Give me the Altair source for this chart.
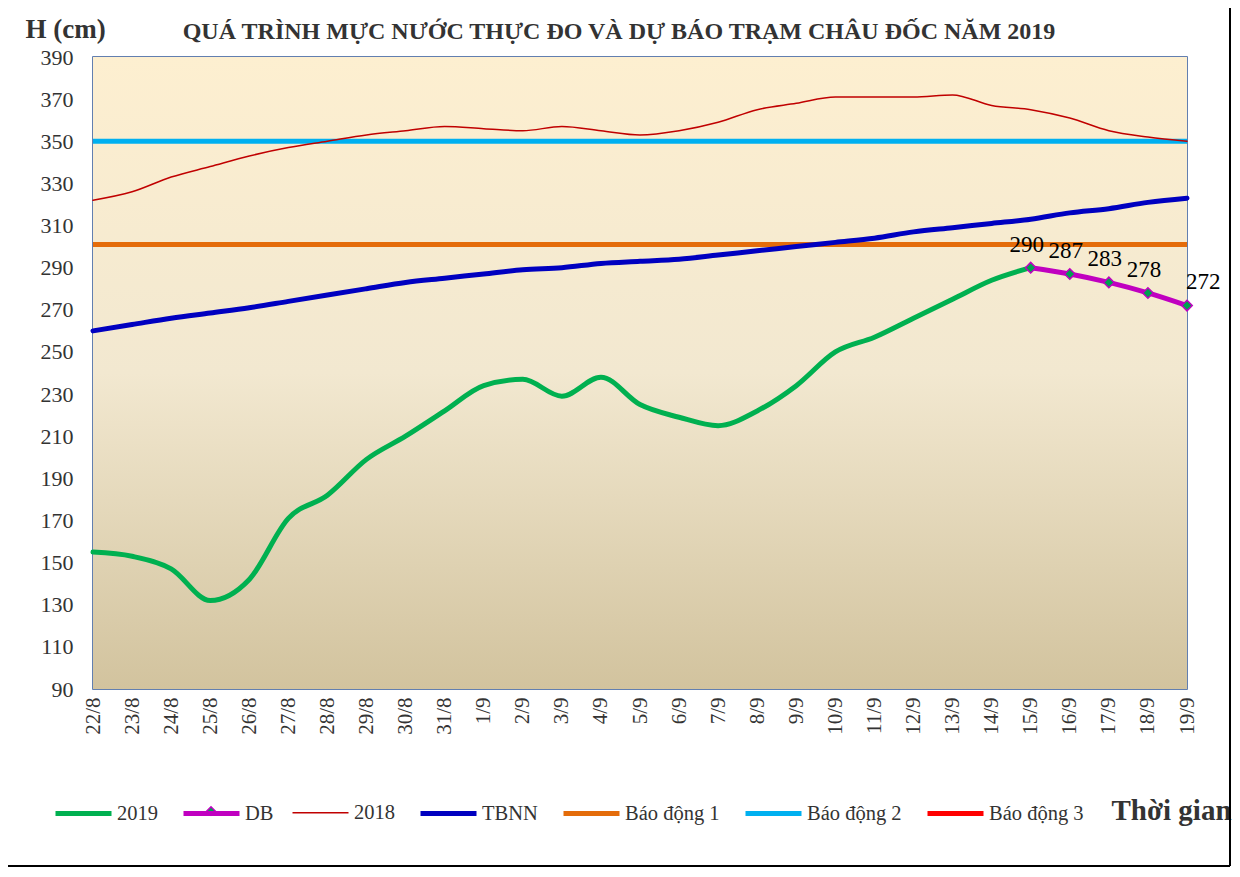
import altair as alt
import pandas as pd

dates = ["22/8", "23/8", "24/8", "25/8", "26/8", "27/8", "28/8", "29/8", "30/8", "31/8",
         "1/9", "2/9", "3/9", "4/9", "5/9", "6/9", "7/9", "8/9", "9/9", "10/9",
         "11/9", "12/9", "13/9", "14/9", "15/9", "16/9", "17/9", "18/9", "19/9"]

# measured 2019 (22/8 .. 15/9)
h2019 = [155, 153, 147, 132, 142, 171, 182, 199, 210, 222, 234, 237, 229, 238, 225,
         219, 215, 222, 234, 250, 257, 266, 275, 284, 290]
# forecast (15/9 .. 19/9)
db_dates = ["15/9", "16/9", "17/9", "18/9", "19/9"]
db = [290, 287, 283, 278, 272]
# 2018
h2018 = [322, 326, 333, 338, 343, 347, 350, 353, 355, 357, 356, 355, 357, 355, 353,
         355, 359, 365, 368, 371, 371, 371, 372, 367, 365, 361, 355, 352, 350]
# long-term average
tbnn = [260, 263, 266, 268.5, 271, 274, 277, 280, 283, 285, 287, 289, 290, 292, 293,
        294, 296, 298, 300, 302, 304, 307, 309, 311, 313, 316, 318, 321, 323]

alarm_names = ["Báo động 1", "Báo động 2"]
alarm_values = [301, 350]

series_names = ["2019", "DB", "2018", "TBNN", "Báo động 1", "Báo động 2", "Báo động 3"]
series_colors = ["#00B050", "#C000C0", "#C00000", "#0000C0", "#E46C0A", "#00B0F0", "#FF0000"]
series_widths = [5, 5, 1.5, 5, 5, 5, 5]

y_ticks = list(range(90, 391, 20))

title_text = "QUÁ TRÌNH MỰC NƯỚC THỰC ĐO VÀ DỰ BÁO TRẠM  CHÂU ĐỐC NĂM  2019"

W, H = 1094, 632
FONT = "Liberation Serif"

rows = []
for d, v in zip(dates[:len(h2019)], h2019):
    rows.append({"date": d, "value": v, "series": "2019"})
for d, v in zip(db_dates, db):
    rows.append({"date": d, "value": v, "series": "DB"})
for d, v in zip(dates, h2018):
    rows.append({"date": d, "value": v, "series": "2018"})
for d, v in zip(dates, tbnn):
    rows.append({"date": d, "value": v, "series": "TBNN"})
lines_df = pd.DataFrame(rows)
alarm_df = pd.DataFrame({"series": alarm_names, "value": alarm_values})
db_df = pd.DataFrame({"date": db_dates, "value": db})
one = pd.DataFrame({"k": [0]})

X = alt.X("date:N", sort=dates,
          scale=alt.Scale(type="point", domain=dates, padding=0),
          axis=alt.Axis(title="Thời gian", labelAngle=270, labelFont=FONT, labelFontSize=21,
                        labelColor="#333333", labelPadding=8, ticks=False, domain=False,
                        titleX=1018, titleY=121, titleAlign="left", titleBaseline="middle",
                        titleFont=FONT, titleFontSize=29, titleFontWeight="bold",
                        titleColor="#333333"))
Y = alt.Y("value:Q",
          scale=alt.Scale(domain=[90, 390], nice=False, zero=False),
          axis=alt.Axis(title="H (cm)", values=y_ticks, grid=False, ticks=False, domain=False,
                        labelFont=FONT, labelFontSize=22, labelColor="#333333", labelPadding=20,
                        titleAngle=0, titleX=-68, titleY=-28, titleAlign="left",
                        titleBaseline="middle", titleFont=FONT, titleFontSize=27,
                        titleFontWeight="bold", titleColor="#333333"))

legend = alt.Legend(title=None, orient="none", legendX=-40, legendY=726,
                    direction="horizontal", columns=7, symbolType="stroke", symbolSize=3136,
                    labelFont=FONT, labelFontSize=20.5, labelColor="#333333",
                    columnPadding=15, labelOffset=3, padding=0)
C = alt.Color("series:N", scale=alt.Scale(domain=series_names, range=series_colors), legend=legend)
SW = alt.StrokeWidth("series:N",
                     scale=alt.Scale(type="ordinal", domain=series_names, range=series_widths),
                     legend=legend)

bg = alt.Chart(one).mark_rect(
    fill=alt.LinearGradient(gradient="linear", x1=0, x2=0, y1=0, y2=1,
                            stops=[alt.GradientStop(color="#FDEFD0", offset=0),
                                   alt.GradientStop(color="#F2E8D0", offset=0.5),
                                   alt.GradientStop(color="#D2C39E", offset=1)])
).encode(x=alt.value(0), x2=alt.value(W), y=alt.value(0), y2=alt.value(H))

lines = alt.Chart(lines_df).mark_line(interpolate="monotone", strokeCap="round").encode(
    x=X, y=Y, color=C, strokeWidth=SW, detail="series:N")

alarms = alt.Chart(alarm_df).mark_rule().encode(y=Y, color=C, strokeWidth=SW)

pts = alt.Chart(db_df).mark_point(shape="diamond", filled=True, size=110, fill="#00A050",
                                  stroke="#C000C0", strokeWidth=1.5, opacity=1).encode(x=X, y=Y)

# diamond marker on the DB legend symbol
legend_pt = alt.Chart(one).mark_point(shape="diamond", filled=True, size=70, fill="#00A050",
                                      stroke="#C000C0", strokeWidth=1.5, opacity=1).encode(
    x=alt.value(118), y=alt.value(754))

labels = alt.Chart(db_df.iloc[:-1]).mark_text(font=FONT, fontSize=23, color="#000000",
                                             dy=-23, dx=-4).encode(x=X, y=Y, text="value:Q")
label_last = alt.Chart(db_df.iloc[-1:]).mark_text(font=FONT, fontSize=23, color="#000000",
                                                 dy=-24, dx=-1, align="left").encode(
    x=X, y=Y, text="value:Q")

title = alt.Chart(one).mark_text(text=title_text, font=FONT, fontSize=24, fontWeight="bold",
                                 color="#333333", baseline="middle").encode(
    x=alt.value(526), y=alt.value(-25))

frame_v = alt.Chart(one).mark_rule(color="#000000", strokeWidth=2).encode(
    x=alt.value(1137), y=alt.value(-57), y2=alt.value(809))
frame_h = alt.Chart(one).mark_rule(color="#000000", strokeWidth=2).encode(
    x=alt.value(-93), x2=alt.value(1137), y=alt.value(809))

chart = alt.layer(bg, alarms, lines, pts, legend_pt, labels, label_last, title,
                  frame_v, frame_h).properties(
    width=W, height=H,
    padding={"left": 85, "top": 49, "right": 45, "bottom": 180},
    autosize=alt.AutoSizeParams(type="none"),
    background="white",
).configure_view(stroke="#2F5597", strokeWidth=1.5)

chart.save("out.html", embed_options={"renderer": "svg", "actions": False})
